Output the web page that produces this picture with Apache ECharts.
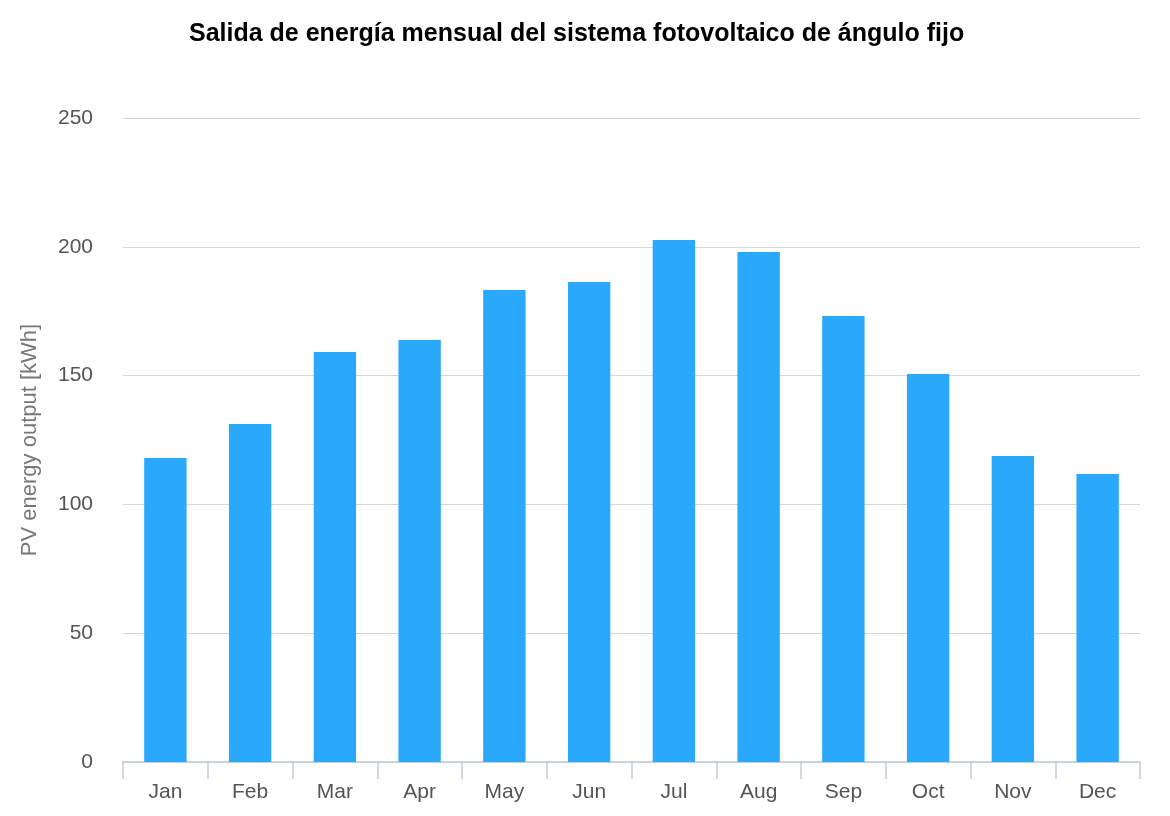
<!DOCTYPE html>
<html><head><meta charset="utf-8">
<script src="https://cdn.jsdelivr.net/npm/echarts@6/dist/echarts.min.js"></script>
<style>html,body{margin:0;padding:0;background:#fff}#c{width:1170px;height:816px}</style>
</head><body><div id="c"></div>
<script>
const months = ['Jan','Feb','Mar','Apr','May','Jun','Jul','Aug','Sep','Oct','Nov','Dec'];
const output = [118.0, 131.2, 159.2, 163.8, 183.2, 186.3, 202.6, 198.0, 173.1, 150.6, 118.8, 111.8];
const chart = echarts.init(document.getElementById('c'));
chart.setOption({
  animation: false,
  title: {
    text: 'Salida de energía mensual del sistema fotovoltaico de ángulo fijo',
    left: 184, top: 17,
    textStyle: {fontFamily: 'Liberation Sans, Arial, sans-serif', fontWeight: 'bold', fontSize: 25, color: '#000'}
  },
  grid: {left: 123, right: 30, top: 118, bottom: 54},
  xAxis: {
    type: 'category', data: months,
    axisLine: {show: true, lineStyle: {color: '#bfcbd9', width: 1.5}},
    axisTick: {show: true, length: 17, lineStyle: {color: '#bfcbd9', width: 1.5}},
    axisLabel: {color: '#555', fontSize: 21, margin: 20, fontFamily: 'Liberation Sans, Arial, sans-serif'}
  },
  yAxis: {
    type: 'value', min: 0, max: 250, interval: 50,
    name: 'PV energy output [kWh]', nameLocation: 'middle', nameGap: 82, nameRotate: 90,
    nameTextStyle: {color: '#777', fontSize: 22, fontFamily: 'Liberation Sans, Arial, sans-serif'},
    axisLine: {show: false}, axisTick: {show: false},
    axisLabel: {color: '#555', fontSize: 21, margin: 30, fontFamily: 'Liberation Sans, Arial, sans-serif'},
    splitLine: {lineStyle: {color: '#d6d6d6', width: 1}}
  },
  series: [{
    type: 'bar', data: output, barWidth: '50%',
    itemStyle: {color: '#2aa8fc'}
  }]
});
</script></body></html>
